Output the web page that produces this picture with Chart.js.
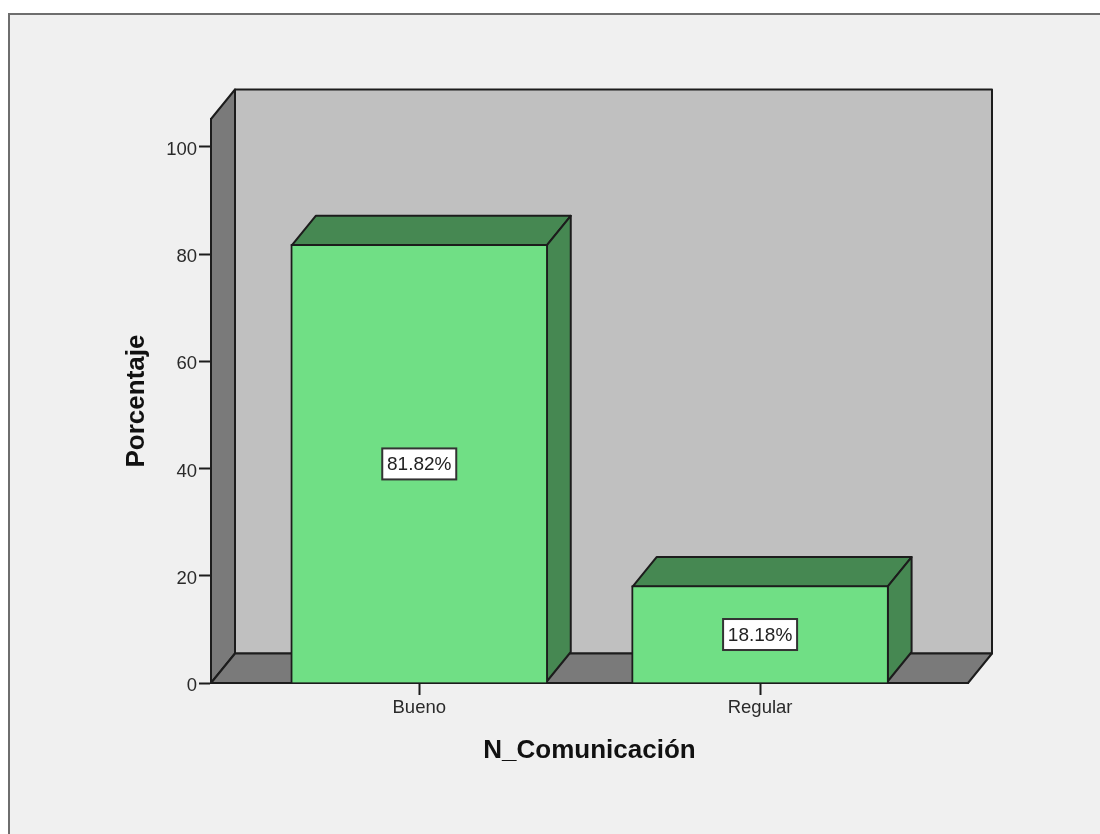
<!DOCTYPE html>
<html lang="es">
<head>
<meta charset="utf-8">
<title>N_Comunicación</title>
<script src="https://cdn.jsdelivr.net/npm/chart.js@4"></script>
<style>
  html, body { margin: 0; padding: 0; background: #fff; width: 1100px; height: 834px; overflow: hidden; }
  #frame { position: absolute; left: 8px; top: 13px; right: 0; bottom: 0; background: #f0f0f0;
           border-left: 2px solid #6e6e6e; border-top: 2px solid #6e6e6e; filter: blur(0.4px); }
  #c { position: absolute; left: 0; top: 0; display: block; filter: blur(0.45px); }
</style>
</head>
<body>
<div id="frame"></div>
<canvas id="c" width="1100" height="834"></canvas>
<script>
const categories = ['Bueno', 'Regular'];
const percentages = [81.82, 18.18];
const valueLabels = ['81.82%', '18.18%'];
const yTicks = [0, 20, 40, 60, 80, 100];
const xTitle = 'N_Comunicación';
const yTitle = 'Porcentaje';

const INK = '#1c1c1c';
const DEPTH_X = 24, DEPTH_Y = 29.5;

function poly(ctx, pts, fill) {
  ctx.beginPath();
  pts.forEach((p, i) => i ? ctx.lineTo(p[0], p[1]) : ctx.moveTo(p[0], p[1]));
  ctx.closePath();
  ctx.fillStyle = fill;
  ctx.fill();
  ctx.lineWidth = 2;
  ctx.strokeStyle = INK;
  ctx.lineJoin = 'round';
  ctx.stroke();
}

const walls = {
  id: 'walls',
  beforeDraw(chart) {
    const { ctx, chartArea: a } = chart;
    const dx = DEPTH_X, dy = DEPTH_Y;
    ctx.save();
    poly(ctx, [[a.left + dx, a.top - dy], [a.right + dx, a.top - dy], [a.right + dx, a.bottom - dy], [a.left + dx, a.bottom - dy]], '#c0c0c0');
    poly(ctx, [[a.left, a.top], [a.left + dx, a.top - dy], [a.left + dx, a.bottom - dy], [a.left, a.bottom]], '#7a7a7a');
    poly(ctx, [[a.left, a.bottom], [a.left + dx, a.bottom - dy], [a.right + dx, a.bottom - dy], [a.right, a.bottom]], '#7a7a7a');
    ctx.restore();
  }
};

const barFaces = {
  id: 'barFaces',
  beforeDatasetsDraw(chart) {
    const { ctx } = chart;
    const dx = DEPTH_X, dy = DEPTH_Y;
    ctx.save();
    chart.getDatasetMeta(0).data.forEach(b => {
      const l = b.x - b.width / 2 + 1, r = b.x + b.width / 2 - 1, t = b.y + 1, bt = b.base - 1;
      poly(ctx, [[l, t], [l + dx, t - dy], [r + dx, t - dy], [r, t]], '#468852');
      poly(ctx, [[r, t], [r + dx, t - dy], [r + dx, bt - dy], [r, bt]], '#468852');
    });
    ctx.restore();
  }
};

const boxLabels = {
  id: 'boxLabels',
  afterDatasetsDraw(chart) {
    const { ctx } = chart;
    ctx.save();
    ctx.font = '19px "Liberation Sans", Arial, sans-serif';
    ctx.textAlign = 'center';
    ctx.textBaseline = 'middle';
    chart.getDatasetMeta(0).data.forEach((b, i) => {
      const cy = (b.y + b.base) / 2 + 0.5, w = 74, h = 31;
      ctx.fillStyle = '#fff';
      ctx.strokeStyle = '#333';
      ctx.lineWidth = 2;
      ctx.fillRect(b.x - w / 2, cy - h / 2, w, h);
      ctx.strokeRect(b.x - w / 2, cy - h / 2, w, h);
      ctx.fillStyle = '#222';
      ctx.fillText(valueLabels[i], b.x, cy + 1);
    });
    ctx.restore();
  }
};

const tickFont = { family: '"Liberation Sans", Arial, sans-serif', size: 18.5 };
const titleFont = { family: '"Liberation Sans", Arial, sans-serif', size: 26, weight: 'bold' };

new Chart(document.getElementById('c'), {
  type: 'bar',
  data: {
    labels: categories,
    datasets: [{
      data: percentages.map((v, i) => ({ x: i, y: v })),
      backgroundColor: '#70df85',
      borderColor: INK,
      borderWidth: 2,
      barThickness: 257
    }]
  },
  plugins: [walls, barFaces, boxLabels],
  options: {
    responsive: false,
    animation: false,
    events: [],
    layout: { padding: { left: 0, top: 119, right: 132, bottom: 0 } },
    plugins: { legend: { display: false }, tooltip: { enabled: false } },
    scales: {
      x: {
        type: 'linear',
        offset: false,
        min: -0.611,
        max: 1.61,
        afterFit(s) { s.height = 151; },
        afterBuildTicks(s) { s.ticks = categories.map((_, i) => ({ value: i })); },
        grid: { drawOnChartArea: false, drawTicks: true, tickLength: 12, tickColor: INK, tickWidth: 2, offset: false },
        border: { display: true, color: INK, width: 2 },
        ticks: { callback: v => categories[v], font: tickFont, color: '#2a2a2a', padding: 2, maxRotation: 0, autoSkip: false },
        title: { display: true, text: xTitle, font: titleFont, color: '#111', padding: { top: 0, bottom: 68 } }
      },
      y: {
        type: 'linear',
        min: 0,
        max: 105.2,
        afterFit(s) { s.width = 211; },
        afterBuildTicks(s) { s.ticks = yTicks.map(v => ({ value: v })); },
        grid: { drawOnChartArea: false, drawTicks: true, tickLength: 12, tickColor: INK, tickWidth: 2 },
        border: { display: true, color: INK, width: 2 },
        ticks: { font: tickFont, color: '#2a2a2a', padding: 2, autoSkip: false, labelOffset: 3 },
        title: { display: true, text: yTitle, font: titleFont, color: '#111', padding: { top: 121, bottom: 0 } }
      }
    }
  }
});
</script>
</body>
</html>
